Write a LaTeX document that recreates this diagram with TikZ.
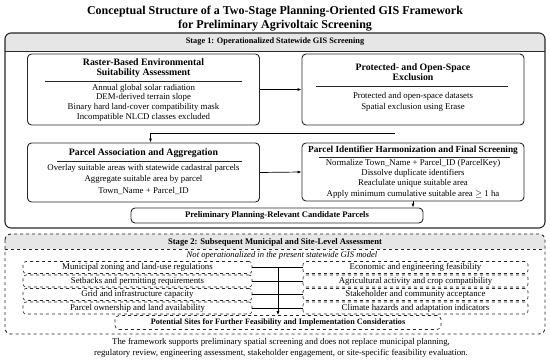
\documentclass[tikz,border=0pt]{standalone}
\usepackage{fontspec}
\setmainfont{Liberation Serif}
\usepackage{tikz}
\usetikzlibrary{arrows.meta,positioning,calc}
\definecolor{bandgray}{RGB}{230,230,230}
\definecolor{edgegray}{RGB}{40,40,40}

\begin{document}
\begin{tikzpicture}[x=1pt,y=-1pt,
  card/.style={rectangle,rounded corners=4pt,draw=edgegray,line width=0.9pt,fill=white},
  cardtitle/.style={align=center,font=\fontsize{9.8}{10.5}\selectfont\bfseries,inner sep=0pt},
  cardtext/.style={align=center,inner sep=0pt},
  outcome/.style={rectangle,rounded corners=4pt,draw=edgegray,line width=0.9pt,fill=white,
    font=\fontsize{8.6}{10}\selectfont\bfseries,inner sep=0pt},
  rowbox/.style={rectangle,rounded corners=3pt,draw=edgegray,dashed,line width=0.6pt,
    minimum height=12pt,inner sep=0pt,font=\fontsize{8.8}{9}\selectfont},
  arrow/.style={-{Latex[length=4pt,width=3pt]},line width=0.7pt,color=black},
  link/.style={line width=0.6pt,color=black}
]
\useasboundingbox (0,0) rectangle (550,361);

% title
\node[align=center,font=\fontsize{12}{14}\selectfont\bfseries] (title) at (275,19)
  {Conceptual Structure of a Two-Stage Planning-Oriented GIS Framework\\
   for Preliminary Agrivoltaic Screening};

% stage 1 frame
\fill[bandgray,rounded corners=6pt] (5,33) rectangle (545,57);
\fill[white] (5.5,51) rectangle (544.5,57);
\draw[edgegray,line width=1.1pt,rounded corners=6pt] (5,33) rectangle (545,228);
\draw[edgegray,line width=0.8pt] (5,51) -- (545,51);
\node[font=\fontsize{8.3}{9}\selectfont\bfseries] (s1head) at (275,42)
  {Stage 1: Operationalized Statewide GIS Screening};

% stage 1 boxes
\node[card,minimum width=232pt,minimum height=71pt] (raster) at (143.5,89.5) {};
\node[cardtitle] (rastert) at (143.5,68) {Raster-Based Environmental\\Suitability Assessment};
\draw[edgegray,line width=0.6pt] (45,81) -- (242,81);
\node[cardtext,font=\fontsize{8.8}{9.7}\selectfont] (rasteri) at (143.5,102.5)
  {Annual global solar radiation\\DEM-derived terrain slope\\
   Binary hard land-cover compatibility mask\\Incompatible NLCD classes excluded};

\node[card,minimum width=222pt,minimum height=71pt] (prot) at (413,89.5) {};
\node[cardtitle] (prott) at (413,72) {Protected- and Open-Space\\Exclusion};
\draw[edgegray,line width=0.6pt] (316,86) -- (508,86);
\node[cardtext,font=\fontsize{8.8}{10.5}\selectfont] (proti) at (413,102)
  {Protected and open-space datasets\\Spatial exclusion using Erase};

\node[card,minimum width=232pt,minimum height=59pt] (assoc) at (143.5,172.5) {};
\node[cardtitle] (assoct) at (143.5,153) {Parcel Association and Aggregation};
\draw[edgegray,line width=0.6pt] (57,161) -- (242,161);
\node[cardtext,font=\fontsize{8.8}{11.3}\selectfont] (associ) at (143.5,179.5)
  {Overlay suitable areas with statewide cadastral parcels\\
   Aggregate suitable area by parcel\\Town\_Name + Parcel\_ID};

\node[card,minimum width=222pt,minimum height=58pt] (pid) at (413,172) {};
\node[cardtitle,font=\fontsize{9.3}{10}\selectfont\bfseries] (pidt) at (413,150)
  {Parcel Identifier Harmonization and Final Screening};
\draw[edgegray,line width=0.6pt] (319,157) -- (510,157);
\node[cardtext,font=\fontsize{8.8}{10.3}\selectfont] (pidi) at (413,178.5)
  {Normalize Town\_Name + Parcel\_ID (ParcelKey)\\Dissolve duplicate identifiers\\
   Reaclulate unique suitable area\\Apply minimum cumulative suitable area $\geq$ 1 ha};

\node[outcome,minimum width=292pt,minimum height=15pt] (cand) at (277,215.5)
  {Preliminary Planning-Relevant Candidate Parcels};

\coordinate (bend) at (395,133);
\draw[arrow] (raster.east) -- (prot.west);
\draw[arrow] (bend) -| ([xshift=7pt]assoc.north);
\draw[arrow] (assoc.east) -- (pid.west);
\draw[arrow] (pid.south) -- (pid.south |- cand.north);

% stage 2 frame
\fill[bandgray,rounded corners=6pt] (5,234) rectangle (545,255);
\fill[white] (5.5,249) rectangle (544.5,255);
\draw[edgegray,line width=0.9pt,dashed,rounded corners=6pt] (5,234) rectangle (545,334);
\draw[edgegray,line width=0.8pt,dashed] (5,249) -- (545,249);
\node[font=\fontsize{8.6}{9}\selectfont\bfseries] (s2head) at (275,242)
  {Stage 2: Subsequent Municipal and Site-Level Assessment};
\node[font=\fontsize{8.6}{9}\selectfont\itshape] (s2note) at (282,255.5)
  {Not operationalized in the present statewide GIS model};

% stage 2 rows
\foreach \i/\y/\lt/\rt in {
  1/267.5/Municipal zoning and land-use regulations/Economic and engineering feasibility,
  2/281/Setbacks and permitting requirements/Agricultural activity and crop compatibility,
  3/294.5/Grid and infrastructure capacity/Stakeholder and community acceptance,
  4/308/Parcel ownership and land availability/Climate hazards and adaptation indicators}{
  \node[rowbox,minimum width=229pt] (L\i) at (137.5,\y) {\lt};
  \node[rowbox,minimum width=225pt] (R\i) at (415.5,\y) {\rt};
  \draw[link] (L\i.east) -- (R\i.west);
}

\node[outcome,dashed,line width=0.7pt,minimum width=326pt,minimum height=14pt,
  font=\fontsize{8.2}{9}\selectfont\bfseries] (pot) at (278,322.5)
  {Potential Sites for Further Feasibility and Implementation Consideratios};
\coordinate (hub) at (L1.east -| pot.north);
\draw[arrow] (hub) -- (pot.north);

% footer
\node[align=center,font=\fontsize{8.8}{10.5}\selectfont] (foot) at (281,348)
  {The framework supports preliminary spatial screening and does not replace municipal planning,\\
   regulatory review, engineering assessment, stakeholder engagement, or site-specific feasibility evaluation.};
\end{tikzpicture}
\end{document}
